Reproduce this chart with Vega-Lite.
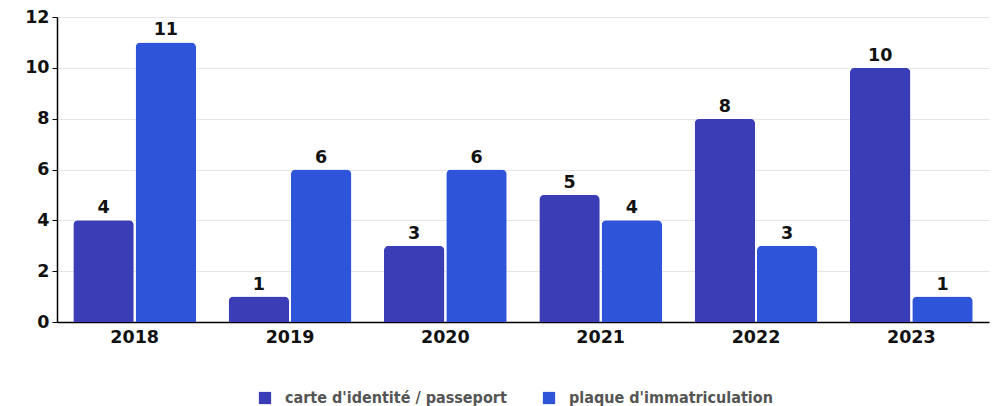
{
  "$schema": "https://vega.github.io/schema/vega-lite/v6.json",
  "autosize": {"type": "none"},
  "width": 932,
  "height": 305,
  "padding": {"left": 57, "top": 17, "right": 9, "bottom": 84},
  "background": "white",
  "data": {
    "values": [
      {"year": "2018", "serie": "carte d'identité / passeport", "value": 4},
      {"year": "2018", "serie": "plaque d'immatriculation", "value": 11},
      {"year": "2019", "serie": "carte d'identité / passeport", "value": 1},
      {"year": "2019", "serie": "plaque d'immatriculation", "value": 6},
      {"year": "2020", "serie": "carte d'identité / passeport", "value": 3},
      {"year": "2020", "serie": "plaque d'immatriculation", "value": 6},
      {"year": "2021", "serie": "carte d'identité / passeport", "value": 5},
      {"year": "2021", "serie": "plaque d'immatriculation", "value": 4},
      {"year": "2022", "serie": "carte d'identité / passeport", "value": 8},
      {"year": "2022", "serie": "plaque d'immatriculation", "value": 3},
      {"year": "2023", "serie": "carte d'identité / passeport", "value": 10},
      {"year": "2023", "serie": "plaque d'immatriculation", "value": 1}
    ]
  },
  "encoding": {
    "x": {
      "field": "year", "type": "nominal",
      "scale": {"paddingInner": 0.21, "paddingOuter": 0.105},
      "axis": {
        "title": null, "labelAngle": 0, "labelFont": "DejaVu Sans", "labelFontWeight": "bold",
        "labelFontSize": 17.5, "labelColor": "#111", "labelPadding": 6,
        "ticks": false, "domainColor": "#000", "domainWidth": 1.5, "grid": false
      }
    },
    "xOffset": {"field": "serie", "type": "nominal", "scale": {"paddingInner": 0.03}},
    "y": {
      "field": "value", "type": "quantitative",
      "scale": {"domain": [0, 12], "nice": false},
      "axis": {
        "title": null, "values": [0, 2, 4, 6, 8, 10, 12], "labelFont": "DejaVu Sans",
        "labelFontWeight": "bold", "labelFontSize": 17.5, "labelColor": "#111",
        "domainColor": "#000", "domainWidth": 1.5, "tickColor": "#000", "tickSize": 5,
        "labelPadding": 3, "gridColor": "#e6e6e6", "gridWidth": 1
      }
    }
  },
  "layer": [
    {
      "mark": {"type": "bar", "cornerRadiusTopLeft": 5, "cornerRadiusTopRight": 5},
      "encoding": {
        "color": {
          "field": "serie", "type": "nominal",
          "scale": {"range": ["#3a3db5", "#2e55d9"]},
          "legend": {
            "title": null, "orient": "none", "direction": "horizontal",
            "legendX": 200, "legendY": 373,
            "symbolType": "square", "symbolSize": 150, "symbolStrokeWidth": 0,
            "symbolOpacity": 1, "labelLimit": 0,
            "labelFont": "DejaVu Sans Condensed", "labelFontWeight": "bold",
            "labelFontSize": 16, "labelColor": "#555", "columnPadding": 34, "labelOffset": 12
          }
        }
      }
    },
    {
      "mark": {"type": "text", "dy": -3, "baseline": "bottom", "font": "DejaVu Sans", "fontWeight": "bold", "fontSize": 17.5, "color": "#111"},
      "encoding": {"text": {"field": "value", "type": "quantitative"}}
    }
  ],
  "config": {"view": {"stroke": null}}
}
